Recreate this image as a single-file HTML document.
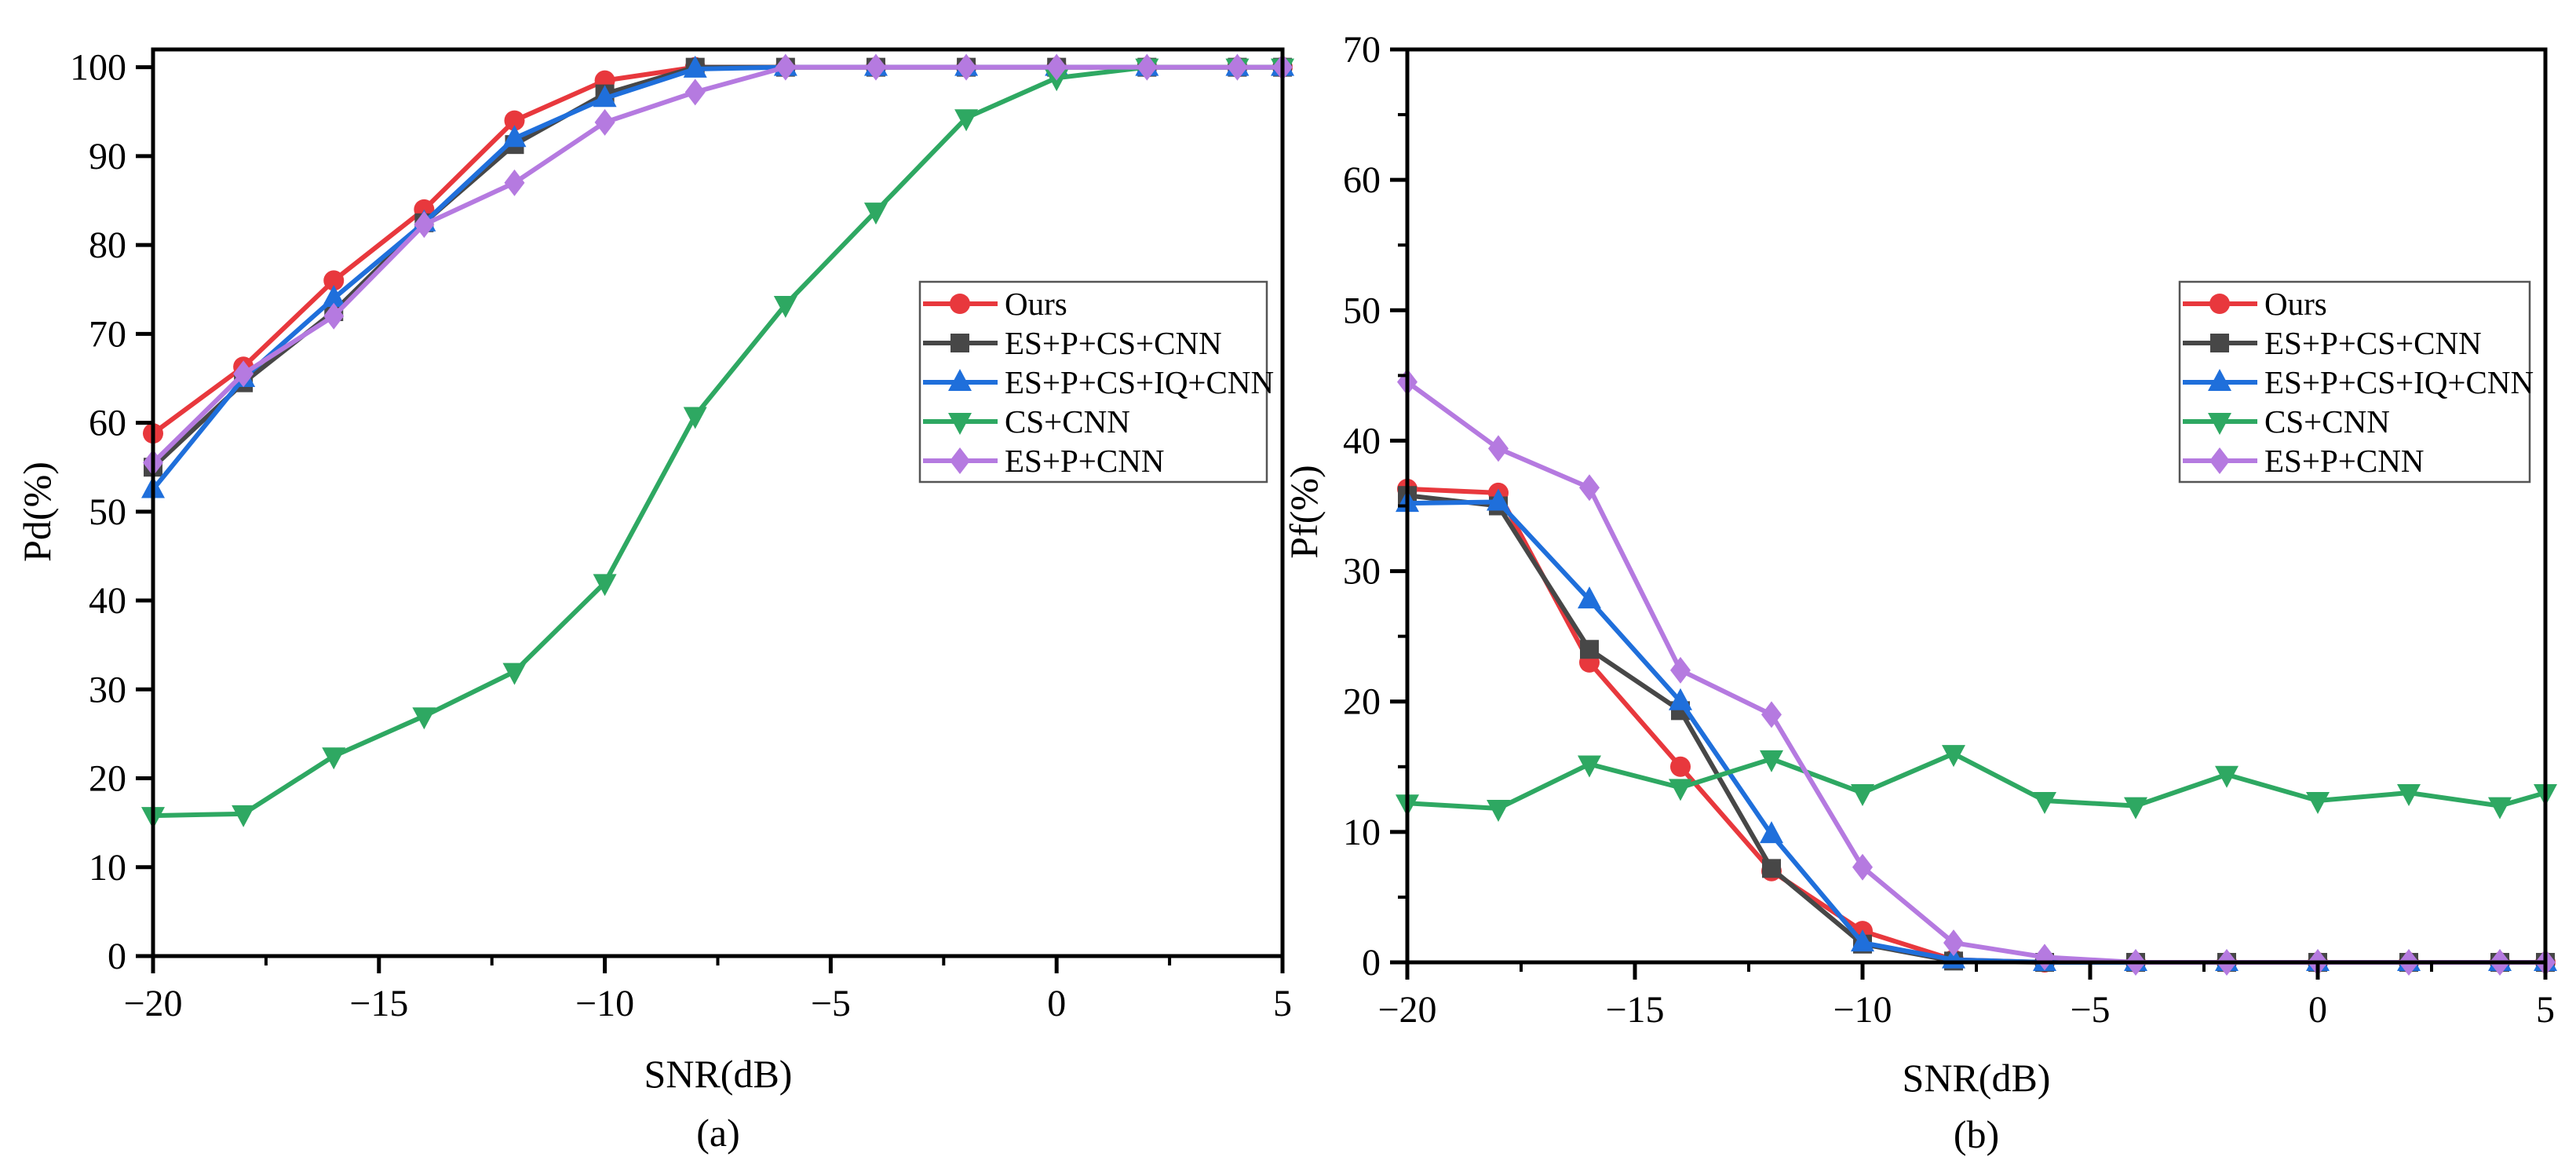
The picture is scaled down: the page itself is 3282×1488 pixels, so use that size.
<!DOCTYPE html>
<html><head><meta charset="utf-8"><style>
html,body{margin:0;padding:0;background:#fff;}
svg{display:block;font-family:"Liberation Serif",serif;}
</style></head><body>
<svg id="fig" width="3282" height="1488" viewBox="0 0 3282 1488" xmlns="http://www.w3.org/2000/svg">
<text x="915" y="1385" font-size="50" text-anchor="middle">SNR(dB)</text>
<text x="915" y="1460" font-size="50" text-anchor="middle">(a)</text>
<text x="2518" y="1390" font-size="50" text-anchor="middle">SNR(dB)</text>
<text x="2518" y="1462" font-size="50" text-anchor="middle">(b)</text>
<text transform="translate(64,652) rotate(-90)" font-size="50" text-anchor="middle">Pd(%)</text>
<text transform="translate(1678,652) rotate(-90)" font-size="50" text-anchor="middle">Pf(%)</text>
</svg>
<script>
const snr = [-20,-18,-16,-14,-12,-10,-8,-6,-4,-2,0,2,4,5];
const seriesNames = ["Ours","ES+P+CS+CNN","ES+P+CS+IQ+CNN","CS+CNN","ES+P+CNN"];
const pdOurs = [58.8,66.3,76,84,94,98.5,100,100,100,100,100,100,100,100];
const pdEsPCs = [55,64.5,72.5,82.5,91.3,97,100,100,100,100,100,100,100,100];
const pdEsPCsIq = [52.5,65,74,82.5,92,96.5,99.8,100,100,100,100,100,100,100];
const pdCs = [15.8,16,22.5,27,32,42,60.8,73.3,83.8,94.3,98.8,100,100,100];
const pdEsP = [55.5,65.5,72,82.3,87,93.8,97.2,100,100,100,100,100,100,100];
const pfOurs = [36.3,36,23,15,7,2.4,0.2,0,0,0,0,0,0,0];
const pfEsPCs = [35.8,35,24,19.3,7.2,1.4,0.1,0,0,0,0,0,0,0];
const pfEsPCsIq = [35.2,35.3,27.8,20,9.8,1.5,0.2,0,0,0,0,0,0,0];
const pfCs = [12.2,11.8,15.2,13.4,15.6,13,16,12.4,12,14.4,12.4,13,12,13];
const pfEsP = [44.5,39.4,36.4,22.4,19,7.3,1.5,0.4,0,0,0,0,0,0];
const xTicks = [-20,-15,-10,-5,0,5];
const xTickLabels = ["\u221220","\u221215","\u221210","\u22125","0","5"];
const pdTicks = [0,10,20,30,40,50,60,70,80,90,100];
const pfTicks = [0,10,20,30,40,50,60,70];

const NS="http://www.w3.org/2000/svg";
const svg=document.getElementById('fig');
const colors=["#e8383d","#474747","#1f6fdb","#2ea862","#b57ae0"];
const markers=["circle","square","up","down","diamond"];
function mk(tag,attrs,parent){const e=document.createElementNS(NS,tag);for(const k in attrs)e.setAttribute(k,attrs[k]);(parent||svg).appendChild(e);return e;}
function marker(type,x,y,c,g){
  let e;
  if(type==="circle")e=mk('circle',{cx:x,cy:y,r:13,fill:c},g);
  else if(type==="square")e=mk('rect',{x:x-12,y:y-12,width:24,height:24,fill:c},g);
  else if(type==="up")e=mk('polygon',{points:`${x},${y-17} ${x-15},${y+11} ${x+15},${y+11}`,fill:c},g);
  else if(type==="down")e=mk('polygon',{points:`${x},${y+17} ${x-15},${y-11} ${x+15},${y-11}`,fill:c},g);
  else e=mk('polygon',{points:`${x},${y-17} ${x+13},${y} ${x},${y+17} ${x-13},${y}`,fill:c},g);
  return e;
}
function chart(id,L,R,T,B,ytop,yTicks,minorY,data,leg){
  const sx=v=>L+(v+20)/25*(R-L);
  const sy=v=>B-v/ytop*(B-T);
  const g=mk('g',{});
  
  
  data.forEach((arr,i)=>{
    const sg=mk('g',{},g);
    
    
    const pts=arr.map((v,j)=>sx(snr[j])+','+sy(v)).join(' ');
    const pl=mk('polyline',{points:pts,fill:'none',stroke:colors[i],'stroke-width':6,'stroke-linejoin':'round'},sg);
    
    
    arr.forEach((v,j)=>{const m=marker(markers[i],sx(snr[j]),sy(v),colors[i],sg);
      
      });
  });
  const fr=mk('rect',{x:L,y:T,width:R-L,height:B-T,fill:'none',stroke:'#000','stroke-width':5},g);
  
  
  xTicks.forEach((v,i)=>{
    mk('line',{x1:sx(v),x2:sx(v),y1:B,y2:B+22,stroke:'#000','stroke-width':5},g);
    const t=mk('text',{x:sx(v),y:B+76,'font-size':48,'text-anchor':'middle'},g);
    t.textContent=xTickLabels[i];
    
    
    if(v<5) mk('line',{x1:sx(v+2.5),x2:sx(v+2.5),y1:B,y2:B+12,stroke:'#000','stroke-width':4},g);
  });
  yTicks.forEach((v,i)=>{
    mk('line',{x1:L-22,x2:L,y1:sy(v),y2:sy(v),stroke:'#000','stroke-width':5},g);
    const t=mk('text',{x:L-34,y:sy(v)+16,'font-size':48,'text-anchor':'end'},g);
    t.textContent=String(v);
    
    
    if(minorY && i<yTicks.length-1) mk('line',{x1:L-12,x2:L,y1:sy(v+5),y2:sy(v+5),stroke:'#000','stroke-width':4},g);
  });
  const lg=mk('g',{},g);
  
  
  mk('rect',{x:leg[0],y:leg[1],width:leg[2],height:leg[3],fill:'#fff',stroke:'#555','stroke-width':2.5},lg);
  seriesNames.forEach((n,i)=>{
    const yy=leg[1]+28+i*50;
    const e=mk('g',{},lg);
    
    
    mk('line',{x1:leg[0]+4,x2:leg[0]+99,y1:yy,y2:yy,stroke:colors[i],'stroke-width':6},e);
    marker(markers[i],leg[0]+51,yy,colors[i],e);
    const t=mk('text',{x:leg[0]+108,y:yy+14,'font-size':41},e);
    t.textContent=n;
  });
}
chart('pd',195,1634,63,1218,102,pdTicks,false,[pdOurs,pdEsPCs,pdEsPCsIq,pdCs,pdEsP],[1172,359,442,255]);
chart('pf',1793,3243,63,1226,70,pfTicks,true,[pfOurs,pfEsPCs,pfEsPCsIq,pfCs,pfEsP],[2777,359,446,255]);
</script>
</body></html>
